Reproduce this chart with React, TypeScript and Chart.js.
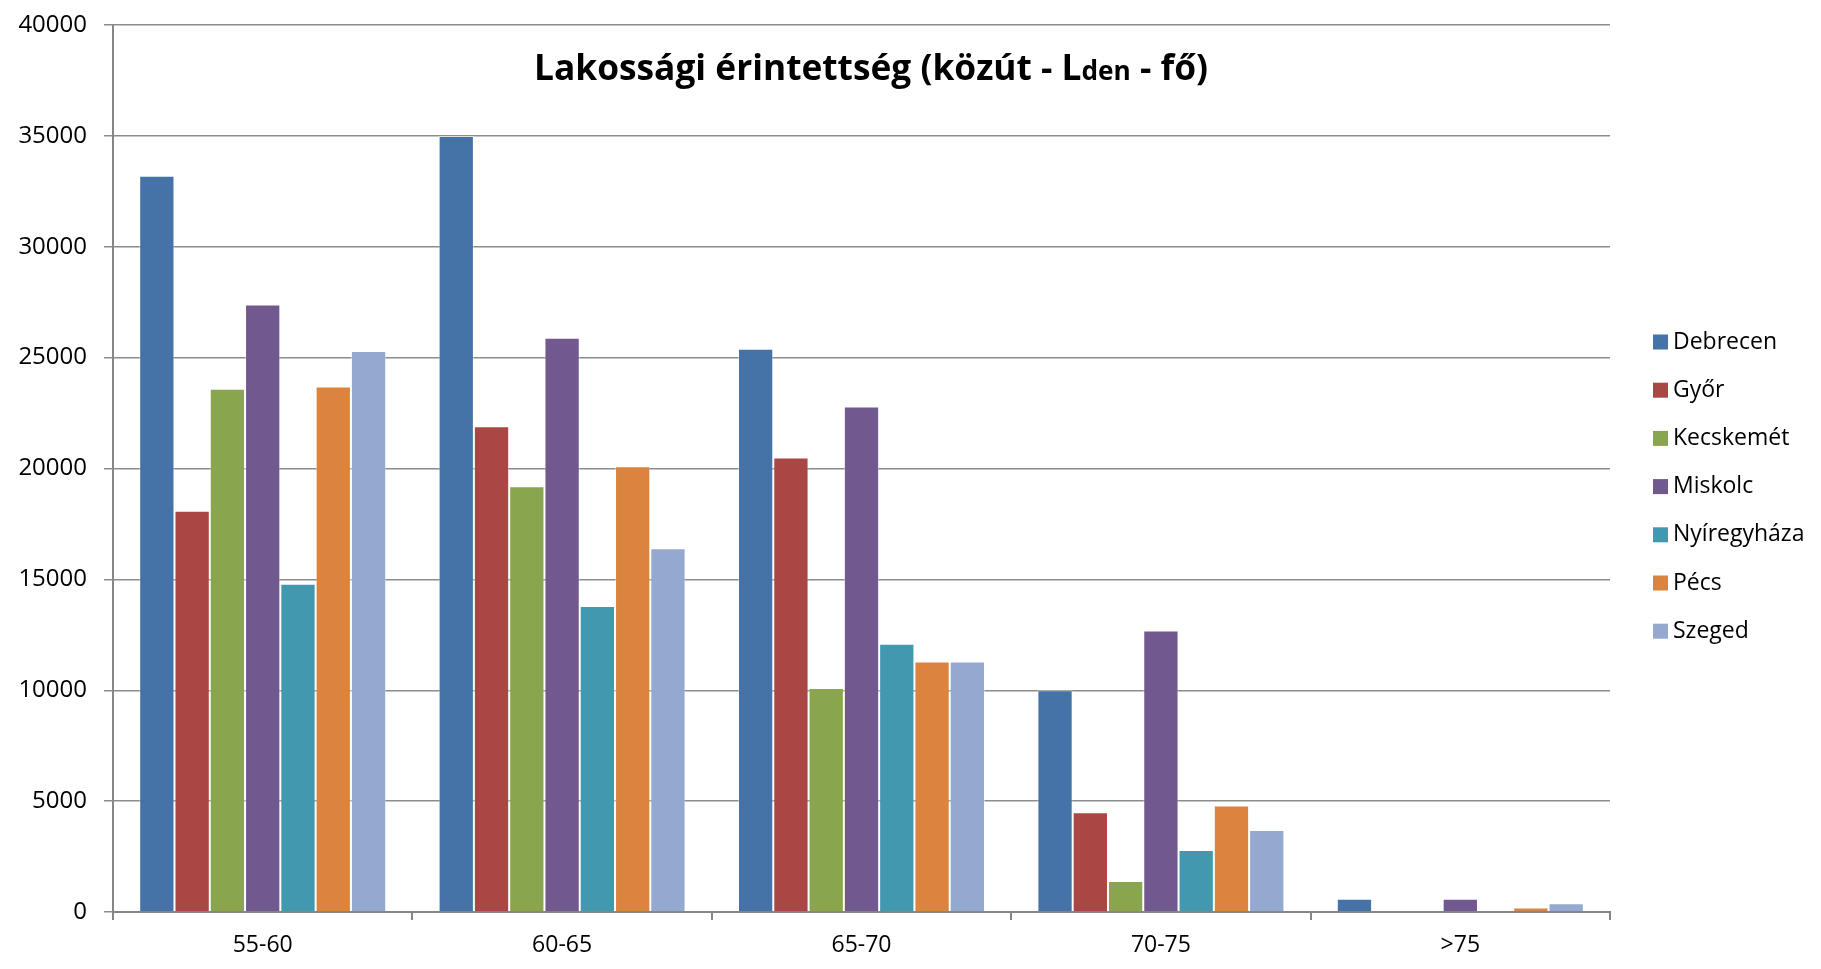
import React, { useEffect, useRef } from "react";
import { Chart, registerables } from "chart.js";

Chart.register(...registerables);

const categories = ["55-60", "60-65", "65-70", "70-75", ">75"];
const seriesNames = ["Debrecen", "Győr", "Kecskemét", "Miskolc", "Nyíregyháza", "Pécs", "Szeged"];
const debrecen = [33200, 35000, 25400, 10000, 600];
const gyor = [18100, 21900, 20500, 4500, 0];
const kecskemet = [23600, 19200, 10100, 1400, 0];
const miskolc = [27400, 25900, 22800, 12700, 600];
const nyiregyhaza = [14800, 13800, 12100, 2800, 0];
const pecs = [23700, 20100, 11300, 4800, 200];
const szeged = [25300, 16400, 11300, 3700, 400];
const seriesValues = [debrecen, gyor, kecskemet, miskolc, nyiregyhaza, pecs, szeged];
const seriesColors = ["#4572A7", "#AA4643", "#89A54E", "#71588F", "#4198AF", "#DB843D", "#93A9CF"];
const yMin = 0;
const yMax = 40000;
const yStep = 5000;

const FONT = "'Open Sans', 'Noto Sans', sans-serif";

const titlePlugin = {
  id: "customTitle",
  afterDraw(chart: any) {
    const ctx = chart.ctx;
    const cx = 871;
    const baseline = 80;
    const parts = [
      { t: "Lakossági érintettség (közút - L", s: 35 },
      { t: "den", s: 26 },
      { t: " - fő)", s: 35 },
    ];
    ctx.save();
    let total = 0;
    const widths: number[] = [];
    for (const p of parts) {
      ctx.font = `bold ${p.s}px ${FONT}`;
      const w = ctx.measureText(p.t).width;
      widths.push(w);
      total += w;
    }
    const target = 674;
    const sx = target / total;
    ctx.translate(cx - target / 2, baseline);
    ctx.scale(sx, 1);
    ctx.fillStyle = "#000";
    ctx.textBaseline = "alphabetic";
    ctx.textAlign = "left";
    let x = 0;
    parts.forEach((p, i) => {
      ctx.font = `bold ${p.s}px ${FONT}`;
      ctx.fillText(p.t, x, 0);
      x += widths[i];
    });
    ctx.restore();
  },
};

const legendPlugin = {
  id: "customLegend",
  afterDraw(chart: any) {
    const ctx = chart.ctx;
    ctx.save();
    ctx.font = `23px ${FONT}`;
    ctx.textBaseline = "middle";
    ctx.textAlign = "left";
    chart.data.datasets.forEach((ds: any, i: number) => {
      const yc = 342 + i * 48.2;
      ctx.fillStyle = ds.backgroundColor;
      ctx.fillRect(1653, yc - 7.5, 15, 15);
      ctx.fillStyle = "#000";
      ctx.fillText(ds.label, 1673, yc);
    });
    ctx.restore();
  },
};

export default function App() {
  const ref = useRef<HTMLCanvasElement | null>(null);
  useEffect(() => {
    if (!ref.current) return;
    const chart = new Chart(ref.current, {
      type: "bar",
      data: {
        labels: categories,
        datasets: seriesNames.map((name, i) => ({
          label: name,
          data: seriesValues[i],
          backgroundColor: seriesColors[i],
          borderColor: "rgba(255,255,255,0.45)",
          borderWidth: 1,
          categoryPercentage: 0.825,
          barPercentage: 1,
        })),
      },
      options: {
        responsive: false,
        animation: false,
        layout: { padding: { left: 0, right: 211, top: 25, bottom: 0 } },
        plugins: {
          legend: { display: false },
          title: { display: false },
          tooltip: { enabled: false },
        },
        scales: {
          x: {
            afterFit(scale: any) {
              scale.height = 57;
            },
            grid: {
              display: true,
              drawOnChartArea: false,
              drawTicks: true,
              tickLength: 8,
              offset: true,
              color: "#868686",
              lineWidth: 2,
            },
            border: { display: true, color: "#868686", width: 2 },
            ticks: {
              color: "#000",
              font: { family: FONT, size: 23 },
              padding: 12,
              maxRotation: 0,
            },
          },
          y: {
            min: yMin,
            max: yMax,
            afterFit(scale: any) {
              scale.width = 113;
              scale.paddingTop = 0;
              scale.paddingBottom = 0;
            },
            grid: {
              color: "#8c8c8c",
              lineWidth: 1.5,
              tickLength: 9,
            },
            border: { display: true, color: "#868686", width: 2 },
            ticks: {
              stepSize: yStep,
              color: "#000",
              font: { family: FONT, size: 24 },
              padding: 17,
              callback: (v: any) => String(v),
            },
          },
        },
      },
      plugins: [titlePlugin, legendPlugin],
    });
    return () => chart.destroy();
  }, []);
  return (
    <div style={{ position: "absolute", left: 0, top: 0, width: 1821, height: 969, background: "#fff" }}>
      <canvas ref={ref} width={1821} height={969} style={{ width: 1821, height: 969 }} />
    </div>
  );
}
